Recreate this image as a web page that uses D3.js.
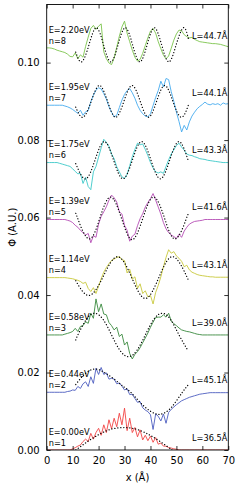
<!DOCTYPE html>
<html>
<head>
<meta charset="utf-8">
<script src="https://cdnjs.cloudflare.com/ajax/libs/d3/7.8.5/d3.min.js"></script>
<style>
  body { margin: 0; background: #fff; }
  text { font-family: "DejaVu Sans", sans-serif; }
</style>
</head>
<body>
<svg id="chart"></svg>
<script>
// sample positions (Angstrom) of the measured profiles
var xGrid = [0,1,2,3,4,5,6,7,8,9,10,11,12,13,14,15,16,17,18,19,20,21,22,23,24,25,26,27,28,29,
             30,31,32,33,34,35,36,37,38,39,40,41,42,43,44,45,46,47,48,49,50,51,52,53,54,55,56,57,58,59,
             60,61,62,63,64,65,66,67,68,69,70];

// measured profiles, in units of 1e-3, relative to each state's offset
var phi1 = [0,0,0,0,0,0,0,0,0,0, 0.3,0.6,1.0,1.3,2.2,2.8,2.2,4.3,2.8,4.5,
            5.6,3.8,6.5,4.5,7.8,5.5,8.2,6.0,9.5,6.5, 10.8,5.0,8.2,4.5,5.8,3.4,5.2,2.6,3.8,2.4,
            3.6,2.0,3.2,1.5,1.8,1.0,1.0,0.6,0.5,0.3, 0.2,0,0,0,0,0,0,0,0,0, 0,0,0,0,0,0,0,0,0,0,0];
var phi2 = [0,0,0,0,0,0,0,0,0.2,0.3, 0.6,0.5,1.5,1.0,2.2,2.7,1.5,4.0,2.3,6.2,
            4.6,6.4,4.6,5.0,3.4,3.6,3.4,2.2,2.4,1.6, 0.6,0.9,-0.6,-0.5,-1.6,-2.6,-2.4,-4.0,-4.6,-5.0,
            -5.8,-9.6,-5.6,-6.2,-7.4,-5.6,-8.0,-5.2,-4.4,-3.8, -3.2,-2.7,-2.2,-1.9,-1.6,-1.3,-1.1,-0.9,-0.7,-0.5,
            -0.4,-0.3,-0.2,-0.1,-0.1,-0.1,-0.1,-0.1,-0.1,-0.1,-0.1];
var phi3 = [0,0,0,0,0,0,0,0.2,0.4,0.6, 0.9,1.7,0.9,2.2,2.4,3.4,3.0,5.6,4.3,9.3,
            6.0,8.0,5.4,5.2,3.2,2.4,1.3,2.0,-0.4,0.2, -2.6,-1.8,-4.8,-6.2,-5.0,-4.3,-3.3,-2.0,-0.8,0.5,
            2.0,3.3,4.5,4.6,4.6,5.2,4.6,5.6,3.6,2.9, 2.4,1.8,1.3,1.1,0.9,0.8,0.6,0.4,0.2,0.1,
            0,0,0,0,0,0,0,0,0,0,0];
var phi4 = [0,0,0,0,0,0,0,0,-0.1,-0.2, -0.3,-0.5,-0.7,-1.0,-1.5,-1.2,-2.8,-3.6,-2.6,-4.1,
            -2.2,-0.3,1.4,2.6,3.6,4.4,4.8,5.2,5.4,4.6, 4.4,1.2,2.2,-0.4,0.2,-2.8,-1.6,-4.1,-3.4,-5.0,
            -4.6,-6.8,-3.8,-2.0,0.2,2.8,5.2,7.2,6.3,6.7, 5.6,5.0,4.2,2.8,3.2,2.0,1.4,1.1,0.8,0.6,
            0.5,0.4,0.3,0.2,0.2,0.1,0.1,0.1,0.1,0.1,0.1];
var phi5 = [0,0,0,0,0,0,0,0,-0.2,-0.4, -0.8,-1.5,-2.0,-2.8,-3.4,-4.0,-3.6,-6.0,-4.2,-4.6,
            -1.2,0.8,2.0,3.3,5.0,6.3,5.6,4.5,2.0,1.4, -1.5,-2.8,-5.6,-4.3,-3.8,-1.6,0.2,1.5,3.2,4.4,
            5.4,6.7,5.0,3.2,1.4,-0.8,-2.4,-3.4,-4.0,-4.4, -4.9,-3.8,-4.6,-3.0,-2.0,-1.2,-0.8,-0.5,-0.4,-0.3,
            -0.2,0,0,0,0,0,0,0,0,0,0];
var phi6 = [0,0,0,0,0,-0.2,-0.4,-0.6,-0.8,-1.0, -1.6,-2.3,-2.9,-2.8,-5.4,-3.8,-6.2,-7.0,-2.4,-1.0,
            1.4,3.8,6.0,5.2,4.2,2.2,1.0,-1.1,-2.4,-3.7, -4.1,-3.0,-0.8,1.5,3.4,5.0,4.6,4.8,3.4,1.8,
            0,-1.4,-2.4,-2.7,-2.4,-2.8,-1.0,0.7,2.2,3.3, 4.4,5.0,4.0,3.2,2.2,1.9,1.8,1.5,1.3,1.0,
            0.9,0.8,0.6,0.5,0.4,0.3,0.2,0.1,0,0,0];
var phi7 = [0,0,0,0,0,0,0,-0.2,-0.4,-0.7, -1.1,-1.6,-2.1,-1.3,-2.6,-1.7,-1.4,0.9,2.6,3.9,
            4.5,4.2,3.0,1.6,-0.4,-1.8,-3.0,-2.6,-0.6,1.3, 2.8,3.8,4.3,3.2,1.8,0,-1.3,-2.2,-2.8,-3.0,
            -2.2,-0.1,2.0,3.8,6.2,4.7,6.9,6.6,3.5,1.0, -1.8,-4.2,-6.9,-5.2,-6.4,-4.3,-2.8,-1.8,-0.9,-0.3,
            0.2,0.8,0.3,0.1,0.4,0.2,0.4,0,0.6,0.3,0.4];
var phi8 = [0,0,-0.1,-0.3,-0.6,-0.8,-1.0,-1.2,-1.6,-2.2, -2.3,-1.3,-2.8,-1.8,-2.4,0.4,2.8,5.0,5.8,4.8,
            5.6,6.2,-1.0,-2.8,-3.9,-4.3,-2.6,0.2,3.0,5.4, 6.9,3.8,1.6,-0.6,-2.4,-3.4,-3.0,-1.4,0.6,2.6,
            4.3,5.0,3.8,1.6,-0.2,-1.9,-2.8,-2.1,-0.1,2.0, 3.6,4.6,4.4,3.4,2.9,2.6,2.7,2.2,1.9,1.6,
            1.5,1.4,1.3,1.2,1.1,1.1,1.0,0.9,0.7,0.5,0.3];
var measured = [phi1, phi2, phi3, phi4, phi5, phi6, phi7, phi8];

// particle-in-a-box fits (dotted): x and value (1e-3)
var fitX = [
  [11.2,15.8,20.4,25,29.8,34.4,39,43.7,48.3,50],
  [11.2,14.5,18.3,22,26,29.5,32.4,36,40,43.6,47,49.8,52.4,54.4],
  [11.2,12,15.25,18.5,21.75,25,28.25,31.5,34.75,38,41.25,44.5,47.75,51,54.6],
  [11.2,16.4,21.8,27.2,32.6,38,43.4,48.7,54.6],
  [11.2,12.1,16.3,20.5,24.6,28.8,32.9,37.1,41.2,45.4,49.6,53.7,54.6],
  [11.2,15,18.6,22.2,25.8,29.4,33,36.6,40.2,43.8,47.4,51,54.6],
  [11.2,14,17.15,20.3,23.45,26.6,29.75,32.9,36.05,39.2,42.35,45.5,48.65,51.8,54.6],
  [11.2,13.5,16.3,19.1,21.9,24.7,27.5,30.3,33.1,35.9,38.7,41.5,44.3,47.1,49.9,52.7,54.6]
];
var fitY = [
  [0,2.2,4.1,5.4,5.8,5.4,4.1,2.2,0,-1.0],
  [2.0,4.6,6.0,5.2,3.4,1.5,0,-2.6,-4.9,-5.7,-4.6,-2.4,0.1,1.8],
  [-1.3,0,4.0,5.6,4.0,0,-4.0,-5.6,-4.0,0,4.0,5.6,4.0,0,-4.2],
  [-0.8,-4.6,0.3,5.4,0.3,-5.4,0.3,5.4,-0.6],
  [1.6,0,-5.0,0.4,5.8,0.4,-5.2,0.4,5.8,0.4,-5.0,0,1.4],
  [-0.3,-4.2,0.6,5.4,0.6,-4.2,0.6,5.4,0.6,-4.2,0.6,5.4,0.4],
  [-0.5,-3.1,1.0,5.1,1.0,-3.1,1.0,5.1,1.0,-3.1,1.0,5.1,1.0,-3.1,0.0],
  [-1.1,-3.6,0.8,5.2,0.8,-3.6,0.8,5.2,0.8,-3.6,0.8,5.2,0.8,-3.6,0.8,5.2,2.4]
];

var offsets = [0, 0.0149, 0.0297, 0.0445, 0.0595, 0.0742, 0.0890, 0.1038];
var stateN = ["1","2","3","4","5","6","7","8"];
var energies = ["0.00","0.44","0.58","1.14","1.39","1.75","1.95","2.20"];
var lengths = ["36.5","45.1","39.0","43.1","41.6","43.3","44.1","44.7"];
var colors = ["#f24444","#4c5cc0","#3a8a3e","#c8c83a","#b44cb4","#3cc8c8","#44aaee","#7cc44c"];

var xTicks = [0,10,20,30,40,50,60,70];
var yTicks = [0.00,0.02,0.04,0.06,0.08,0.10];

var width = 241, height = 488;
var margin = {top: 4.5, right: 12.7, bottom: 38, left: 46.7};

var svg = d3.select("#chart").attr("width", width).attr("height", height);

var x = d3.scaleLinear().domain([0, 70]).range([margin.left, width - margin.right]);
var y = d3.scaleLinear().domain([0, 0.115]).range([height - margin.bottom, margin.top]);

svg.append("defs").append("clipPath").attr("id", "plotclip")
  .append("rect")
  .attr("x", x(0)).attr("y", y(0.115))
  .attr("width", x(70) - x(0)).attr("height", y(0) - y(0.115));

var plot = svg.append("g").attr("clip-path", "url(#plotclip)");

// measured profiles
measured.forEach(function(vals, i) {
  var line = d3.line()
    .x(function(d, j) { return x(xGrid[j]); })
    .y(function(d) { return y(offsets[i] + d * 1e-3); });
  plot.append("path")
    .attr("d", line(vals))
    .attr("fill", "none")
    .attr("stroke", colors[i])
    .attr("stroke-width", 0.9);
});

// dotted model curves
fitX.forEach(function(xs, i) {
  var line = d3.line()
    .curve(d3.curveNatural)
    .x(function(d, j) { return x(xs[j]); })
    .y(function(d) { return y(offsets[i] + d * 1e-3); });
  plot.append("path")
    .attr("d", line(fitY[i]))
    .attr("fill", "none")
    .attr("stroke", "#000")
    .attr("stroke-width", 1.3)
    .attr("stroke-linecap", "round")
    .attr("stroke-dasharray", "0.1,2.9");
});

// annotations
var ann = svg.append("g").attr("font-size", 8.2).attr("fill", "#000");
offsets.forEach(function(off, i) {
  var yb = y(off);
  ann.append("text").attr("x", x(0) + 2).attr("y", yb - 18)
    .attr("dy", "0.35em").text("E=" + energies[i] + "eV");
  ann.append("text").attr("x", x(0) + 2).attr("y", yb - 7)
    .attr("dy", "0.35em").text("n=" + stateN[i]);
  ann.append("text").attr("x", x(70) - 1).attr("y", yb - 12)
    .attr("dy", "0.35em").attr("text-anchor", "end").text("L=" + lengths[i] + "Å");
});

// frame
svg.append("rect")
  .attr("x", x(0)).attr("y", y(0.115))
  .attr("width", x(70) - x(0)).attr("height", y(0) - y(0.115))
  .attr("fill", "none").attr("stroke", "#000").attr("stroke-width", 0.9);

// axes, ticks pointing inward
var tickLen = 4;
svg.append("g").attr("transform", "translate(0," + y(0) + ")")
  .call(d3.axisBottom(x).tickValues(xTicks).tickSizeInner(-tickLen).tickSizeOuter(0).tickPadding(7))
  .call(function(g) { g.select(".domain").remove(); });
svg.append("g").attr("transform", "translate(0," + y(0.115) + ")")
  .call(d3.axisTop(x).tickValues(xTicks).tickSizeInner(-tickLen).tickSizeOuter(0).tickFormat(""))
  .call(function(g) { g.select(".domain").remove(); });
svg.append("g").attr("transform", "translate(" + x(0) + ",0)")
  .call(d3.axisLeft(y).tickValues(yTicks).tickSizeInner(-tickLen).tickSizeOuter(0).tickPadding(7)
    .tickFormat(d3.format(".2f")))
  .call(function(g) { g.select(".domain").remove(); });
svg.append("g").attr("transform", "translate(" + x(70) + ",0)")
  .call(d3.axisRight(y).tickValues(yTicks).tickSizeInner(-tickLen).tickSizeOuter(0).tickFormat(""))
  .call(function(g) { g.select(".domain").remove(); });

svg.selectAll(".tick text")
  .attr("font-family", "DejaVu Sans, sans-serif")
  .attr("font-size", 10)
  .attr("fill", "#000");
svg.selectAll(".tick line").attr("stroke", "#000").attr("stroke-width", 0.8);

// axis titles
svg.append("text")
  .attr("x", (x(0) + x(70)) / 2).attr("y", 477).attr("dy", "0.35em")
  .attr("text-anchor", "middle").attr("font-size", 10)
  .text("x (Å)");
svg.append("text")
  .attr("transform", "translate(12," + ((y(0) + y(0.115)) / 2) + ") rotate(-90)")
  .attr("dy", "0.35em")
  .attr("text-anchor", "middle").attr("font-size", 10)
  .text("Φ (A.U.)");
</script>
</body>
</html>
